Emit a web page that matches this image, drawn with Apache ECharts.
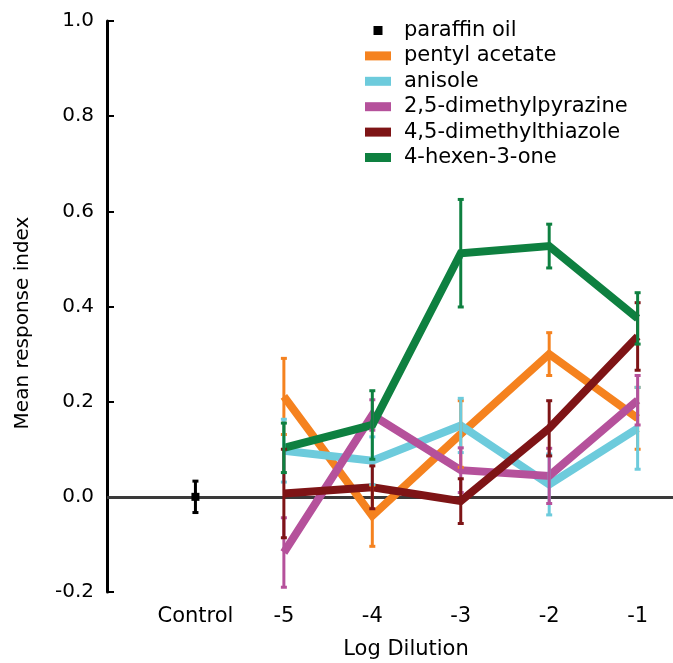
<!DOCTYPE html>
<html>
<head>
<meta charset="utf-8">
<script src="https://cdn.jsdelivr.net/npm/echarts@6/dist/echarts.min.js"></script>
<style>
html,body{margin:0;padding:0;background:#fff;}
#chart{width:673px;height:663px;}
</style>
</head>
<body>
<div id="chart"></div>
<script>
// x positions: Control is drawn at -6 on the log-dilution axis
var xPositions = [-6, -5, -4, -3, -2, -1];
var xLabels = ['Control', '-5', '-4', '-3', '-2', '-1'];
var dilutions = [-5, -4, -3, -2, -1];

var seriesNames = ['pentyl acetate', 'anisole', '2,5-dimethylpyrazine', '4,5-dimethylthiazole', '4-hexen-3-one'];
var seriesColors = ['#F5821F', '#6DCBDC', '#B5519B', '#7E1416', '#0E8040'];

// means
var pentylAcetate = [0.211, -0.040, 0.132, 0.300, 0.165];
var anisole = [0.097, 0.076, 0.150, 0.026, 0.144];
var dimethylpyrazine = [-0.117, 0.172, 0.056, 0.044, 0.203];
var dimethylthiazole = [0.007, 0.020, -0.009, 0.144, 0.337];
var hexenone = [0.103, 0.151, 0.512, 0.527, 0.375];

// error bar half-widths
var pentylAcetateErr = [0.080, 0.064, 0.070, 0.045, 0.065];
var anisoleErr = [0.066, 0.050, 0.057, 0.064, 0.086];
var dimethylpyrazineErr = [0.073, 0.032, 0.047, 0.058, 0.052];
var dimethylthiazoleErr = [0.093, 0.045, 0.047, 0.058, 0.071];
var hexenoneErr = [0.052, 0.072, 0.113, 0.046, 0.054];

// control (paraffin oil)
var controlMean = [0.0];
var controlErr = [0.033];

var yTicks = [-0.2, 0.0, 0.2, 0.4, 0.6, 0.8, 1.0];

var means = [pentylAcetate, anisole, dimethylpyrazine, dimethylthiazole, hexenone];
var errs = [pentylAcetateErr, anisoleErr, dimethylpyrazineErr, dimethylthiazoleErr, hexenoneErr];

var FONT = 'DejaVu Sans';

function errorBarSeries(name, color, data, zz) {
  return {
    name: name,
    type: 'custom',
    z: zz,
    silent: true,
    data: data,
    renderItem: function (params, api) {
      var x = api.value(0), lo = api.value(1), hi = api.value(2);
      var pLo = api.coord([x, lo]);
      var pHi = api.coord([x, hi]);
      var cap = 3;
      var st = { stroke: color, lineWidth: 3 };
      return {
        type: 'group',
        children: [
          { type: 'line', shape: { x1: pLo[0], y1: pLo[1], x2: pHi[0], y2: pHi[1] }, style: st },
          { type: 'line', shape: { x1: pLo[0] - cap, y1: pLo[1], x2: pLo[0] + cap, y2: pLo[1] }, style: st },
          { type: 'line', shape: { x1: pHi[0] - cap, y1: pHi[1], x2: pHi[0] + cap, y2: pHi[1] }, style: st }
        ]
      };
    }
  };
}

var series = [];
// zero reference line (drawn underneath everything)
series.push({
  name: 'zero',
  type: 'line',
  z: 1,
  data: [],
  silent: true,
  markLine: {
    silent: true,
    symbol: 'none',
    z: 1,
    label: { show: false },
    lineStyle: { color: '#3a3a3a', width: 3, type: 'solid' },
    data: [{ yAxis: 0 }]
  }
});
// paraffin oil control
series.push({
  name: 'paraffin oil',
  type: 'scatter',
  symbol: 'rect',
  symbolSize: 8,
  z: 10,
  itemStyle: { color: '#000', opacity: 1 },
  data: [[xPositions[0], controlMean[0]]]
});
series.push(errorBarSeries('paraffin oil', '#000', [[xPositions[0], controlMean[0] - controlErr[0], controlMean[0] + controlErr[0]]], 10));

for (var s = 0; s < seriesNames.length; s++) {
  var lineData = [], ebData = [];
  for (var i = 0; i < dilutions.length; i++) {
    lineData.push([dilutions[i], means[s][i]]);
    ebData.push([dilutions[i], means[s][i] - errs[s][i], means[s][i] + errs[s][i]]);
  }
  series.push({
    name: seriesNames[s],
    type: 'line',
    z: 2 + s * 0.01,
    data: lineData,
    showSymbol: false,
    symbol: 'none',
    lineStyle: { color: seriesColors[s], width: 8, join: 'miter', cap: 'butt' },
    itemStyle: { color: seriesColors[s] },
    emphasis: { disabled: true }
  });
  series.push(errorBarSeries(seriesNames[s], seriesColors[s], ebData, 4 + s * 0.01));
}

var legendData = [{ name: 'paraffin oil', icon: 'path://M0,0L10,0L10,10L0,10Z', itemStyle: { color: '#000' } }];
for (var k = 0; k < seriesNames.length; k++) {
  legendData.push({ name: seriesNames[k], icon: 'rect', itemStyle: { color: seriesColors[k] } });
}

var chart = echarts.init(document.getElementById('chart'), null, { renderer: 'canvas' });
chart.setOption({
  animation: false,
  backgroundColor: '#fff',
  textStyle: { fontFamily: FONT },
  grid: { left: 107, right: 0, top: 21, bottom: 71, containLabel: false },
  legend: {
    data: legendData,
    orient: 'vertical',
    left: 365,
    top: 20,
    padding: 0,
    itemWidth: 26,
    itemHeight: 9,
    itemGap: 4.4,
    selectedMode: false,
    symbolKeepAspect: true,
    textStyle: { fontFamily: FONT, fontSize: 21, color: '#000', padding: [0, 0, 0, 8] }
  },
  xAxis: {
    type: 'value',
    min: -7,
    max: -0.6,
    interval: 1,
    splitLine: { show: false },
    axisLine: { show: false },
    axisTick: { show: false },
    axisLabel: {
      show: true,
      margin: 14,
      fontFamily: FONT,
      fontSize: 21,
      color: '#000',
      showMinLabel: false,
      showMaxLabel: false,
      formatter: function (v) {
        var idx = xPositions.indexOf(Math.round(v * 1000) / 1000);
        return idx >= 0 ? xLabels[idx] : '';
      }
    }
  },
  yAxis: {
    type: 'value',
    min: yTicks[0],
    max: yTicks[yTicks.length - 1],
    interval: 0.2,
    splitLine: { show: false },
    axisLine: { show: true, onZero: false, lineStyle: { color: '#000', width: 3 } },
    axisTick: { show: true, inside: true, length: 7, lineStyle: { color: '#000', width: 2 } },
    axisLabel: {
      margin: 13,
      fontFamily: FONT,
      fontSize: 20,
      color: '#000',
      formatter: function (v) { return (Math.round(v * 10) / 10).toFixed(1); }
    }
  },
  graphic: [
    {
      type: 'text',
      x: 23, y: 323,
      rotation: Math.PI / 2,
      style: { text: 'Mean response index', fontFamily: FONT, fontSize: 20, fill: '#000', textAlign: 'center', textVerticalAlign: 'middle' }
    },
    {
      type: 'text',
      x: 406, y: 650,
      style: { text: 'Log Dilution', fontFamily: FONT, fontSize: 21, fill: '#000', textAlign: 'center', textVerticalAlign: 'middle' }
    }
  ],
  series: series
});
</script>
</body>
</html>
